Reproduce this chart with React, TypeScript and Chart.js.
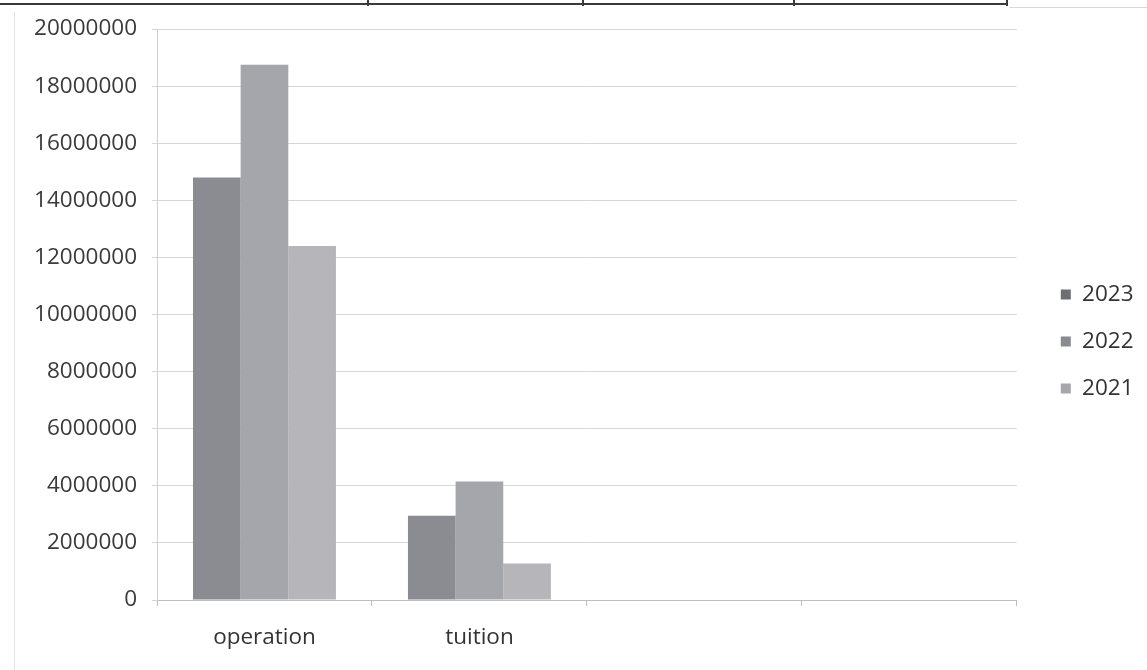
import React, { useEffect, useRef } from "react";
import { Chart, registerables } from "chart.js";

Chart.register(...registerables);

const categories = ["operation", "tuition", "", ""];
const seriesLabels = ["2023", "2022", "2021"];
const values2023 = [14800000, 2950000, null, null];
const values2022 = [18750000, 4150000, null, null];
const values2021 = [12400000, 1280000, null, null];
const seriesColors = ["#8b8b92", "#a5a5ac", "#b5b5ba"];
const legendColors = ["#6e6e75", "#8a8a91", "#a6a6ab"];
const yMin = 0;
const yMax = 20000000;
const yStep = 2000000;

const FONT = "'Open Sans', 'DejaVu Sans', sans-serif";

const legendShift = {
  id: "legendShift",
  afterLayout(chart: any) {
    const lg = chart.legend;
    if (!lg) return;
    const dx = 19.5;
    const dy = -8;
    lg.left += dx;
    lg.right += dx;
    lg.top += dy;
    lg.bottom += dy;
  },
};

export default function App() {
  const ref = useRef<HTMLCanvasElement | null>(null);

  useEffect(() => {
    if (!ref.current) return;
    const chart = new Chart(ref.current, {
      type: "bar",
      data: {
        labels: categories,
        datasets: [values2023, values2022, values2021].map((d, i) => ({
          label: seriesLabels[i],
          data: d,
          backgroundColor: seriesColors[i],
          borderWidth: 0,
          barPercentage: 1,
          categoryPercentage: 0.665,
        })),
      },
      options: {
        animation: false,
        responsive: false,
        maintainAspectRatio: false,
        layout: { padding: { top: 29, right: 23, bottom: 0, left: 0 } },
        plugins: {
          tooltip: { enabled: false },
          legend: {
            position: "right",
            align: "center",
            labels: {
              boxWidth: 10,
              boxHeight: 10,
              padding: 24.5,
              color: "#333333",
              font: { family: FONT, size: 22.5 },
              generateLabels: (c: any) => {
                const items = Chart.defaults.plugins.legend.labels.generateLabels(c);
                return items.map((it: any, i: number) => ({
                  ...it,
                  fillStyle: legendColors[i],
                  strokeStyle: legendColors[i],
                  lineWidth: 0,
                }));
              },
            },
          },
        },
        scales: {
          x: {
            afterFit: (s: any) => {
              s.height = 70;
            },
            grid: {
              display: true,
              offset: true,
              drawOnChartArea: false,
              drawTicks: true,
              tickLength: 6,
              color: "#bdbdbd",
            },
            border: { display: true, color: "#bdbdbd", width: 1 },
            ticks: {
              color: "#333333",
              padding: 18,
              font: { family: FONT, size: 22.5 },
              maxRotation: 0,
              autoSkip: false,
            },
          },
          y: {
            min: yMin,
            max: yMax,
            afterFit: (s: any) => {
              s.width = 157;
            },
            grid: {
              color: "#d6d6d6",
              drawTicks: true,
              tickLength: 5,
            },
            border: { display: true, color: "#d0d0d0", width: 1 },
            ticks: {
              stepSize: yStep,
              color: "#3a3a3a",
              padding: 15,
              font: { family: FONT, size: 22.5 },
              callback: (v: any) => String(v),
            },
          },
        },
      },
      plugins: [legendShift],
    });
    return () => chart.destroy();
  }, []);

  return (
    <div
      style={{
        position: "absolute",
        left: 0,
        top: 0,
        width: 1147,
        height: 670,
        background: "#ffffff",
        overflow: "hidden",
      }}
    >
      <div style={{ position: "absolute", left: 0, top: 3, width: 1008, height: 2, background: "#3a3a3a" }} />
      <div style={{ position: "absolute", left: 1010, top: 7, width: 137, height: 1, background: "#d8d8d8" }} />
      {[367, 582, 793, 1006].map((x) => (
        <div key={x} style={{ position: "absolute", left: x, top: 0, width: 2, height: 6, background: "#3a3a3a" }} />
      ))}
      <div style={{ position: "absolute", left: 14, top: 12, width: 1, height: 658, background: "#e4e4e4" }} />
      <canvas ref={ref} width={1147} height={670} style={{ position: "absolute", left: 0, top: 0 }} />
    </div>
  );
}
